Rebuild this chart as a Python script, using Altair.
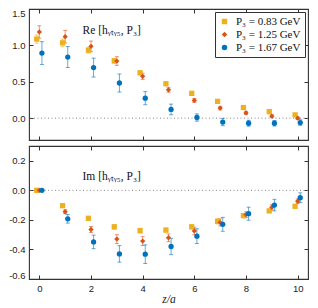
import altair as alt
import pandas as pd

# ---------------- data ----------------
z = [0, 1, 2, 3, 4, 5, 6, 7, 8, 9, 10]
series = ["P\u2083 = 0.83 GeV", "P\u2083 = 1.25 GeV", "P\u2083 = 1.67 GeV"]
shift = [-0.1, 0.0, 0.1]
colors = ["#EDB120", "#D95319", "#0072BD"]
shapes = ["square", "diamond", "circle"]

re_083 = [1.087, 1.035, 0.934, 0.788, 0.623, 0.473, 0.341, 0.231, 0.146, 0.089, 0.045]
re_083_err = [0.057, 0.053, 0.040, 0.033, 0.027, 0.020, 0.015, 0.012, 0.012, 0.012, 0.012]
re_125 = [1.185, 1.120, 0.987, 0.785, 0.575, 0.390, 0.244, 0.138, 0.072, 0.027, 0.000]
re_125_err = [0.085, 0.086, 0.073, 0.060, 0.042, 0.033, 0.027, 0.025, 0.022, 0.020, 0.018]
re_167 = [0.894, 0.840, 0.695, 0.483, 0.275, 0.120, 0.009, -0.053, -0.070, -0.070, -0.060]
re_167_err = [0.157, 0.144, 0.130, 0.124, 0.090, 0.073, 0.050, 0.050, 0.040, 0.038, 0.038]

im_083 = [0.0, -0.104, -0.189, -0.247, -0.273, -0.269, -0.247, -0.210, -0.171, -0.139, -0.108]
im_083_err = [0.004, 0.008, 0.012, 0.016, 0.016, 0.013, 0.014, 0.018, 0.014, 0.012, 0.010]
im_125 = [0.0, -0.145, -0.265, -0.330, -0.343, -0.321, -0.275, -0.217, -0.165, -0.115, -0.074]
im_125_err = [0.004, 0.013, 0.020, 0.030, 0.030, 0.026, 0.026, 0.024, 0.020, 0.018, 0.016]
im_167 = [0.0, -0.193, -0.349, -0.430, -0.432, -0.380, -0.310, -0.230, -0.158, -0.100, -0.050]
im_167_err = [0.005, 0.029, 0.046, 0.056, 0.063, 0.055, 0.050, 0.047, 0.044, 0.039, 0.033]

x_ticks = [0, 2, 4, 6, 8, 10]
re_ticks = [0, 0.5, 1, 1.5]
im_ticks = [-0.6, -0.4, -0.2, 0, 0.2]
zero_line = [0]
re_label = "Re [h\u1d67\u209c\u1d67\u2085, P\u2083]"
im_label = "Im [h\u1d67\u209c\u1d67\u2085, P\u2083]"


def table(vals_list, errs_list):
    rows = []
    for s, d, v, e in zip(series, shift, vals_list, errs_list):
        for zi, vi, ei in zip(z, v, e):
            rows.append({"s": s, "x": zi + d, "y": vi, "lo": vi - ei, "hi": vi + ei})
    return pd.DataFrame(rows)


SANS = "Liberation Sans"
SERIF = "Liberation Serif"
W = 279


def panel(df, ydom, yticks, h, label, lx, ly, bottom_panel):
    xs = alt.Scale(domain=[-0.4, 10.4], nice=False, zero=False)
    ys = alt.Scale(domain=ydom, nice=False, zero=False)
    cs = alt.Scale(domain=series, range=colors)
    ss = alt.Scale(domain=series, range=shapes)
    lab_expr = "replace(datum.label, '\u2212', '-')"

    xb_args = dict(orient="bottom", values=x_ticks, tickSize=4, offset=-4, domain=False,
                   grid=False, tickColor="#333", labelFont=SANS, labelFontSize=9.5,
                   labelColor="#222", labelPadding=4)
    if bottom_panel:
        xb = alt.Axis(labels=True, titleFont=SERIF, titleFontStyle="italic",
                      titleFontWeight="normal", titleFontSize=11.5, titleColor="#222",
                      titlePadding=1, **xb_args)
        xtitle = "z/a"
    else:
        xb = alt.Axis(labels=False, **xb_args)
        xtitle = None
    yl = alt.Axis(orient="left", values=yticks, tickSize=4, offset=-4, domain=False,
                  grid=False, tickColor="#333", labelFont=SANS, labelFontSize=9.5,
                  labelColor="#222", labelPadding=4, labelExpr=lab_expr,
                  labelFlush=True, labelFlushOffset=1)
    xt = alt.Axis(orient="top", values=x_ticks, tickSize=4, offset=-4, domain=False,
                  grid=False, labels=False, tickColor="#333")
    yr = alt.Axis(orient="right", values=yticks, tickSize=4, offset=-4, domain=False,
                  grid=False, labels=False, tickColor="#333")

    base = alt.Chart(df)
    if bottom_panel:
        color = alt.Color("s:N", scale=cs, legend=None)
        shape = alt.Shape("s:N", scale=ss, legend=None)
    else:
        lg = alt.Legend(orient="top-right", title=None, offset=3, strokeColor="#333",
                        fillColor="white", padding=4, labelFont=SERIF, labelFontSize=11,
                        labelColor="#111", symbolSize=30, rowPadding=1, labelOffset=6,
                        cornerRadius=0)
        color = alt.Color("s:N", scale=cs, legend=lg)
        shape = alt.Shape("s:N", scale=ss, legend=lg)

    zero = alt.Chart(pd.DataFrame({"v": zero_line})).mark_rule(
        color="#888", strokeDash=[1, 2.5], strokeWidth=1
    ).encode(y=alt.Y("v:Q", scale=ys, axis=None))

    bars = base.mark_rule(strokeWidth=1, opacity=0.6).encode(
        x=alt.X("x:Q", scale=xs, axis=None),
        y=alt.Y("lo:Q", scale=ys, axis=None),
        y2="hi:Q",
        stroke=alt.Stroke("s:N", scale=cs, legend=None),
    )
    cap_lo = base.mark_tick(orient="horizontal", size=4, thickness=1, opacity=0.6).encode(
        x=alt.X("x:Q", scale=xs, axis=None),
        y=alt.Y("lo:Q", scale=ys, axis=None),
        fill=alt.Fill("s:N", scale=cs, legend=None),
    )
    cap_hi = base.mark_tick(orient="horizontal", size=4, thickness=1, opacity=0.6).encode(
        x=alt.X("x:Q", scale=xs, axis=None),
        y=alt.Y("hi:Q", scale=ys, axis=None),
        fill=alt.Fill("s:N", scale=cs, legend=None),
    )
    pts = base.mark_point(filled=True, size=28, opacity=1).encode(
        x=alt.X("x:Q", scale=xs, axis=xb, title=xtitle),
        y=alt.Y("y:Q", scale=ys, axis=yl, title=None),
        color=color,
        shape=shape,
    )
    mirror = base.mark_point(opacity=0).encode(
        x=alt.X("x:Q", scale=xs, axis=xt, title=None),
        y=alt.Y("y:Q", scale=ys, axis=yr, title=None),
    )
    txt = alt.Chart(pd.DataFrame({"x": [lx], "y": [ly], "t": [label]})).mark_text(
        font=SERIF, fontSize=11.5, color="#111"
    ).encode(
        x=alt.X("x:Q", scale=xs, axis=None),
        y=alt.Y("y:Q", scale=ys, axis=None),
        text="t:N",
    )
    return alt.layer(zero, bars, cap_lo, cap_hi, pts, mirror, txt).properties(width=W, height=h)


top = panel(table([re_083, re_125, re_167], [re_083_err, re_125_err, re_167_err]),
            [-0.3, 1.5], re_ticks, 131, re_label, 2.8, 1.2, False)
bottom = panel(table([im_083, im_125, im_167], [im_083_err, im_125_err, im_167_err]),
               [-0.6, 0.3], im_ticks, 133, im_label, 2.8, 0.09, True)

chart = alt.vconcat(top, bottom, spacing=2).resolve_legend(
    color="independent", shape="independent"
).properties(
    padding={"left": 0, "top": -1, "right": 0, "bottom": 0}
).configure_view(stroke="#333", strokeWidth=1.1)

chart.save("out.html", embed_options={"renderer": "svg", "actions": False})
